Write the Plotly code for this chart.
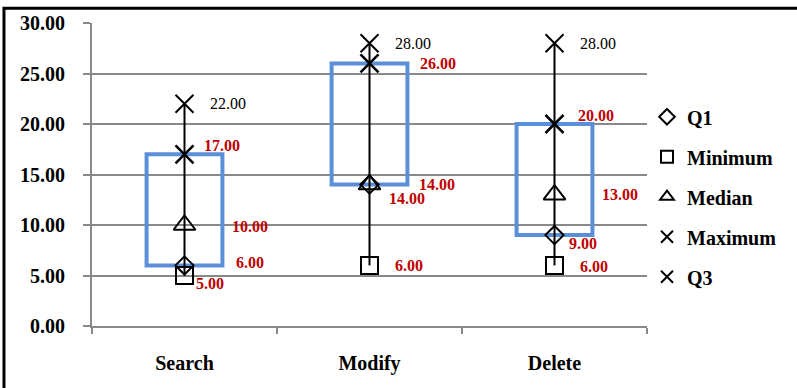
import plotly.graph_objects as go

categories = ["Search", "Modify", "Delete"]
minimum = [5, 6, 6]
q1 = [6, 14, 9]
median = [10, 14, 13]
q3 = [17, 26, 20]
maximum = [22, 28, 28]
y_ticks = [0, 5, 10, 15, 20, 25, 30]

SERIF = "Liberation Serif"
BLUE = "#5B8FD8"
RED = "#C00000"
GRID = "#898989"

fig = go.Figure()

# IQR boxes (Q1 -> Q3)
fig.add_trace(go.Bar(
    x=categories, y=[b - a for a, b in zip(q1, q3)], base=q1, width=0.41,
    marker=dict(color="rgba(0,0,0,0)", line=dict(color=BLUE, width=4)),
    showlegend=False, hoverinfo="skip"))

# whiskers (min -> max)
wx, wy = [], []
for c, lo, hi in zip(categories, minimum, maximum):
    wx += [c, c, None]
    wy += [lo, hi, None]
fig.add_trace(go.Scatter(x=wx, y=wy, mode="lines", line=dict(color="black", width=2),
                         showlegend=False, hoverinfo="skip"))

series = [
    ("Q1", q1, "diamond-open", 14, 2),
    ("Minimum", minimum, "square-open", 17, 2),
    ("Median", median, "triangle-up-open", 19, 2),
    ("Maximum", maximum, "x-thin-open", 18, 2),
    ("Q3", q3, "x-thin-open", 18, 2.5),
]
for i, (name, vals, sym, size, lw) in enumerate(series):
    fig.add_trace(go.Scatter(
        x=categories, y=vals, mode="markers", name=name, legendgroup=f"g{i}",
        marker=dict(symbol=sym, size=size, color="black", line=dict(color="black", width=lw)),
    ))

# data labels: (values, colour, bold, per-category (dx, dy) pixel offsets)
label_specs = [
    (maximum, "black", False, [(24, 0), (24, 0), (24, 0)]),
    (q3, RED, True, [(18, -9), (49, 0), (22, -9)]),
    (median, RED, True, [(46, 1), (18, 14), (46, 0)]),
    (q1, RED, True, [(50, -3), (48, 0), (13, 8)]),
    (minimum, RED, True, [(10, 8), (24, 0), (24, 1)]),
]
for vals, col, bold, offs in label_specs:
    for c, v, (dx, dy) in zip(categories, vals, offs):
        fig.add_annotation(
            x=c, y=v, text=f"{v:.2f}", showarrow=False, xanchor="left", yanchor="middle",
            xshift=dx, yshift=-dy, borderpad=0,
            font=dict(family=SERIF, size=16, color=col, weight="bold" if bold else "normal"))

# outer chart frame
fig.add_shape(type="rect", xref="paper", yref="paper", x0=-0.1586, x1=1.4, y0=-0.4, y1=1.0489,
              line=dict(color="black", width=3), fillcolor="rgba(0,0,0,0)", layer="above")

fig.update_layout(
    width=797, height=388,
    margin=dict(l=92, r=150, t=19, b=62),
    paper_bgcolor="white", plot_bgcolor="white",
    barmode="overlay",
    showlegend=True,
    legend=dict(x=1.0, xanchor="left", y=0.755, yanchor="top", tracegroupgap=11,
                font=dict(family=SERIF, size=20, color="black", weight="bold"),
                itemsizing="constant", bgcolor="rgba(0,0,0,0)"),
    xaxis=dict(type="category", categoryorder="array", categoryarray=categories,
               range=[-0.5, 2.5], showline=True, linecolor=GRID, linewidth=2,
               ticks="outside", tickson="boundaries", ticklen=6, tickcolor=GRID, tickwidth=2,
               showgrid=False, ticklabelstandoff=18,
               tickfont=dict(family=SERIF, size=20, color="black", weight="bold")),
    yaxis=dict(range=[0, 30], tickvals=y_ticks, ticktext=[f"{t:.2f}" for t in y_ticks],
               showline=True, linecolor=GRID, linewidth=2, showgrid=True, gridcolor=GRID,
               gridwidth=1.5, ticks="outside", ticklen=7, tickcolor=GRID, tickwidth=1.5,
               zeroline=False, ticklabelstandoff=14,
               tickfont=dict(family=SERIF, size=20, color="black", weight="bold")),
)

fig.write_html("out.html", config={"displayModeBar": False},
               post_script="document.body.style.margin='0';")
